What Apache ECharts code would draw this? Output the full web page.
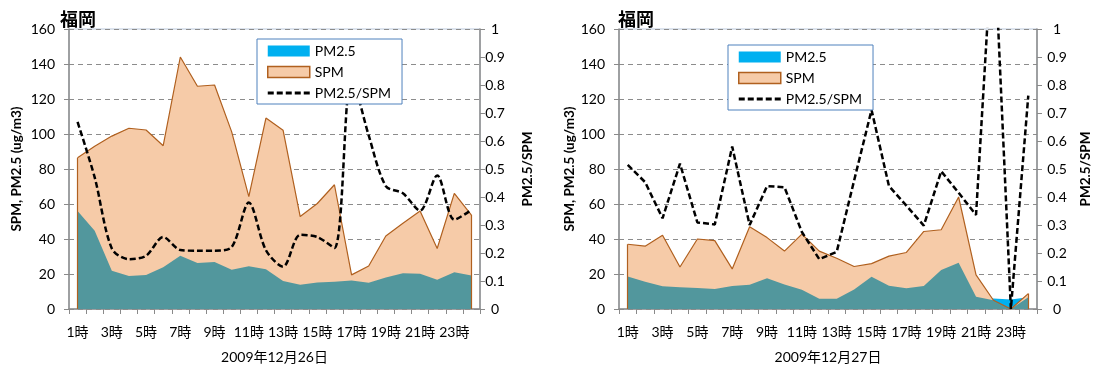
<!DOCTYPE html>
<html><head><meta charset="utf-8">
<script src="https://cdn.jsdelivr.net/npm/echarts@6/dist/echarts.min.js"></script>
<style>html,body{margin:0;padding:0;background:#fff}#c{width:1104px;height:369px}</style>
</head><body><div id="c"></div>
<script>
const hours = ['1時','2時','3時','4時','5時','6時','7時','8時','9時','10時','11時','12時',
  '13時','14時','15時','16時','17時','18時','19時','20時','21時','22時','23時','24時'];
const titles = ['福岡', '福岡'];
const dateLabels = ['2009年12月26日', '2009年12月27日'];
const leftAxisName = 'SPM, PM2.5 (ug/m3)';
const rightAxisName = 'PM2.5/SPM';

const pm25Dec26 = [56, 44.7, 21.8, 18.8, 19.5, 23.8, 30.4, 26.3, 26.9, 22.5, 24.4, 22.7,
  16, 13.9, 15.2, 15.6, 16.3, 15, 18, 20.5, 20.1, 16.7, 21, 19.2];
const spmDec26 = [86.4, 93, 98.8, 103.3, 102.3, 93.3, 144, 127.3, 128, 101.2, 64.2, 109.1,
  102.2, 52.8, 60.3, 71, 19.5, 24.6, 41.7, 49, 56, 34.6, 66.1, 53.7];
const ratioDec26 = [0.668, 0.47, 0.216, 0.178, 0.19, 0.257, 0.211, 0.208, 0.208, 0.221, 0.38, 0.21,
  0.151, 0.265, 0.257, 0.218, 0.83, 0.62, 0.439, 0.413, 0.351, 0.477, 0.319, 0.354];

const pm25Dec27 = [18.6, 15.6, 13, 12.4, 12, 11.5, 13.1, 13.8, 17.6, 14, 11, 5.8,
  5.9, 11.1, 18.5, 13.3, 11.9, 13.2, 22.3, 26.5, 7, 6.0, 5.5, 6.7];
const spmDec27 = [37, 35.9, 42.1, 24, 40, 39.1, 22.9, 47, 40.8, 33.1, 42.8, 33.1,
  29, 24.3, 25.9, 30.2, 32.3, 44.3, 45.3, 64, 19.5, 5.0, 0, 8.8];
const ratioDec27 = [0.515, 0.453, 0.324, 0.519, 0.309, 0.302, 0.58, 0.3, 0.439, 0.435, 0.275, 0.178,
  0.204, 0.459, 0.711, 0.439, 0.369, 0.298, 0.492, 0.415, 0.336, 1.38, 0, 0.762];

const charts = [
  {pm: pm25Dec26, spm: spmDec26, ratio: ratioDec26, smooth: 0.3},
  {pm: pm25Dec27, spm: spmDec27, ratio: ratioDec27, smooth: false}
];

const FONT = 'Lato, "Noto Sans CJK JP", sans-serif';
const BLUE = '#00B0F0', PEACH = '#F6CBA8', BROWN = '#B0601F', TEAL = '#52979D';
const AXIS = '#8A8A8A';
const DASH_ICON = 'path://M0,0h6v3h-6zM9,0h6v3h-6zM18,0h6v3h-6zM27,0h6v3h-6zM36,0h6v3h-6z';

const grids = [
  {left: 69, top: 29, width: 411, height: 285},
  {left: 619, top: 29, width: 418, height: 285}
];
const legendPos = [{left: 257, top: 39}, {left: 728, top: 45}];
const namePos = [{l: 46, r: 41, rm: 15}, {l: 40, r: 42, rm: 20}];

const option = {
  animation: false,
  textStyle: {fontFamily: FONT},
  title: titles.map((t, i) => ({
    text: t, left: i === 0 ? 55 : 613, top: 5,
    textStyle: {fontFamily: '"Noto Sans CJK JP", sans-serif', fontWeight: 'bold', fontSize: 18, color: '#000'}
  })),
  grid: grids.map(g => Object.assign({show: true, borderColor: '#B9C7DB', borderWidth: 1, backgroundColor: 'transparent'}, g)),
  legend: legendPos.map(p => ({
    left: p.left, top: p.top, orient: 'vertical',
    backgroundColor: '#fff', borderColor: '#4F81BD', borderWidth: 1, borderRadius: 0,
    padding: [5, 11, 4, 10], itemGap: 7, itemWidth: 42, itemHeight: 11,
    textStyle: {fontFamily: FONT, fontSize: 14, color: '#000', lineHeight: 14},
    data: [
      {name: 'PM2.5', icon: 'rect', itemStyle: {color: BLUE, borderWidth: 0}},
      {name: 'SPM', icon: 'rect', itemStyle: {color: PEACH, borderColor: BROWN, borderWidth: 1.5}},
      {name: 'PM2.5/SPM', icon: DASH_ICON, itemStyle: {color: '#000', borderWidth: 0}}
    ]
  })),
  xAxis: grids.map((g, i) => ({
    type: 'category', gridIndex: i, data: hours, boundaryGap: true,
    axisLine: {lineStyle: {color: AXIS, width: 1.5}},
    axisTick: {show: true, interval: 0, length: 5, lineStyle: {color: AXIS}},
    axisLabel: {interval: 1, fontSize: 14, color: '#000', margin: 16},
    name: dateLabels[i], nameLocation: 'middle', nameGap: 41,
    nameTextStyle: {fontSize: 14, color: '#000'}
  })),
  yAxis: [],
  series: []
};

charts.forEach((c, i) => {
  option.yAxis.push({
    type: 'value', gridIndex: i, position: 'left', min: 0, max: 160, interval: 20,
    axisLine: {show: true, lineStyle: {color: AXIS, width: 1.5}},
    axisTick: {show: true, length: 5, lineStyle: {color: AXIS}},
    axisLabel: {fontSize: 14, color: '#000', margin: 14},
    splitLine: {show: true, lineStyle: {color: '#8C8C8C', width: 1, type: [5, 4]}},
    name: leftAxisName, nameLocation: 'middle', nameRotate: 90, nameGap: namePos[i].l,
    nameTextStyle: {fontSize: 13.5, fontWeight: 'bold', color: '#000'}
  });
  option.yAxis.push({
    type: 'value', gridIndex: i, position: 'right', min: 0, max: 1, interval: 0.1,
    axisLine: {show: true, lineStyle: {color: AXIS, width: 1.5}},
    axisTick: {show: true, length: 5, lineStyle: {color: AXIS}},
    axisLabel: {fontSize: 14, color: '#000', margin: namePos[i].rm, align: 'center'},
    splitLine: {show: false},
    name: rightAxisName, nameLocation: 'middle', nameRotate: 90, nameGap: namePos[i].r,
    nameTextStyle: {fontSize: 13.5, fontWeight: 'bold', color: '#000'}
  });
  const overlap = c.pm.map((v, k) => Math.min(v, c.spm[k]));
  const base = {type: 'line', xAxisIndex: i, yAxisIndex: 2 * i, symbol: 'none', showSymbol: false, silent: true};
  option.series.push(Object.assign({}, base, {
    name: 'PM2.5', data: c.pm, itemStyle: {color: BLUE},
    lineStyle: {width: 0, color: BLUE}, areaStyle: {color: BLUE, opacity: 1}
  }));
  option.series.push(Object.assign({}, base, {
    name: 'SPM', data: c.spm, itemStyle: {color: PEACH},
    lineStyle: {width: 0, color: BROWN}, areaStyle: {color: PEACH, opacity: 1}
  }));
  option.series.push(Object.assign({}, base, {
    name: 'overlap', data: overlap, itemStyle: {color: TEAL},
    lineStyle: {width: 0}, areaStyle: {color: TEAL, opacity: 1}
  }));
  option.series.push(Object.assign({}, base, {
    name: 'SPM', data: c.spm, itemStyle: {color: PEACH},
    lineStyle: {width: 1.2, color: BROWN},
    markLine: {
      silent: true, symbol: 'none', label: {show: false},
      lineStyle: {color: BROWN, width: 1.2, type: 'solid'},
      data: [
        [{coord: [0, 0]}, {coord: [0, c.spm[0]]}],
        [{coord: [hours.length - 1, 0]}, {coord: [hours.length - 1, c.spm[hours.length - 1]]}]
      ]
    }
  }));
  option.series.push(Object.assign({}, base, {
    name: 'PM2.5/SPM', yAxisIndex: 2 * i + 1, data: c.ratio, smooth: c.smooth,
    itemStyle: {color: '#000'},
    lineStyle: {color: '#000', width: 2.5, type: [6, 3]}
  }));
});

const chart = echarts.init(document.getElementById('c'));
chart.setOption(option);
</script>
</body></html>
